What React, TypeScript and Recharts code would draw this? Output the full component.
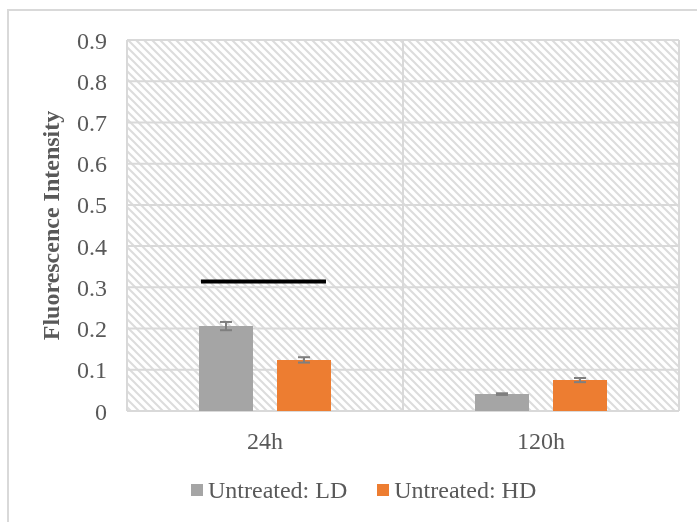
import React from 'react';
import { ComposedChart, Bar, XAxis, YAxis, CartesianGrid, ErrorBar, Legend, ReferenceLine } from 'recharts';

const categories = ['24h', '120h'];
const ldValues = [0.206, 0.041];
const ldErrors = [0.01, 0.002];
const hdValues = [0.124, 0.075];
const hdErrors = [0.0065, 0.005];
const yTicks = [0, 0.1, 0.2, 0.3, 0.4, 0.5, 0.6, 0.7, 0.8, 0.9];
const seriesNames = ['Untreated: LD', 'Untreated: HD'];
const seriesColors = ['#A5A5A5', '#ED7D31'];
// significance bar over the 24h group, as a fraction of the category axis (0..1) and a value
const sigStart = 0.134;
const sigEnd = 0.3605;
const sigValue = 0.314;

const data = categories.map((c, i) => ({
  cat: c,
  ld: ldValues[i],
  ldErr: ldErrors[i],
  hd: hdValues[i],
  hdErr: hdErrors[i],
}));

const FONT = '"Liberation Serif", "Times New Roman", serif';
const TXT = '#595959';
const GRID = '#d9d9d9';

const LegendContent = () => (
  <div style={{ display: 'flex', alignItems: 'center', paddingLeft: 183, fontFamily: FONT, fontSize: 24, color: TXT, lineHeight: '40px' }}>
    {seriesNames.map((n, i) => (
      <div key={n} style={{ display: 'flex', alignItems: 'center', marginRight: 30 }}>
        <span style={{ display: 'inline-block', width: 12, height: 12, background: seriesColors[i], marginRight: 5 }} />
        <span>{n}</span>
      </div>
    ))}
  </div>
);

const YLabel = (props: any) => {
  const vb = props.viewBox || {};
  const x = vb.x + 43;
  const y = vb.y + vb.height / 2;
  return (
    <text x={x} y={y} transform={`rotate(-90, ${x}, ${y})`} textAnchor="middle" dominantBaseline="central"
      fontFamily={FONT} fontSize={24} fontWeight="bold" fill={TXT}>
      Fluorescence Intensity
    </text>
  );
};

export default function App() {
  return (
    <div>
      <div style={{ position: 'fixed', left: 7, top: 9, width: 2000, height: 2000, borderLeft: `2px solid ${GRID}`, borderTop: `2px solid ${GRID}`, pointerEvents: 'none' }} />
      <svg width={0} height={0} style={{ position: 'absolute' }}>
        <defs>
          <pattern id="hatch" width={8} height={8} patternUnits="userSpaceOnUse">
            <rect width={8} height={8} fill="#ffffff" />
            <path d="M-2,-2 L10,10 M-2,6 L2,10 M6,-2 L10,2" stroke="#dcdcdc" strokeWidth={2} />
          </pattern>
        </defs>
      </svg>
      <ComposedChart width={681} height={506} data={data} margin={{ top: 32, right: 10, left: 0, bottom: 4 }} barGap={24}>
        <CartesianGrid
          fill="url(#hatch)"
          stroke={GRID}
          strokeWidth={2}
          verticalCoordinatesGenerator={({ offset }: any) => [offset.left, offset.left + offset.width / 2, offset.left + offset.width]}
        />
        <XAxis dataKey="cat" axisLine={false} tickLine={false} height={59} tickMargin={15}
          tick={{ fill: TXT, fontFamily: FONT, fontSize: 24 }} />
        <XAxis xAxisId="sig" type="number" domain={[0, 1]} hide allowDataOverflow />
        <YAxis domain={[0, 0.9]} ticks={yTicks} width={119} axisLine={false} tickLine={false} tickMargin={14}
          tick={{ fill: TXT, fontFamily: FONT, fontSize: 24 }} label={<YLabel />} />
        <Bar dataKey="ld" name={seriesNames[0]} fill={seriesColors[0]} barSize={54} isAnimationActive={false}>
          <ErrorBar dataKey="ldErr" width={6} strokeWidth={2} stroke="#7f7f7f" />
        </Bar>
        <Bar dataKey="hd" name={seriesNames[1]} fill={seriesColors[1]} barSize={54} isAnimationActive={false}>
          <ErrorBar dataKey="hdErr" width={6} strokeWidth={2} stroke="#7f7f7f" />
        </Bar>
        <ReferenceLine xAxisId="sig" segment={[{ x: sigStart, y: sigValue }, { x: sigEnd, y: sigValue }]} stroke="#000000" strokeWidth={4} ifOverflow="visible" />
        <Legend verticalAlign="bottom" align="left" height={40} content={<LegendContent />} />
      </ComposedChart>
    </div>
  );
}
